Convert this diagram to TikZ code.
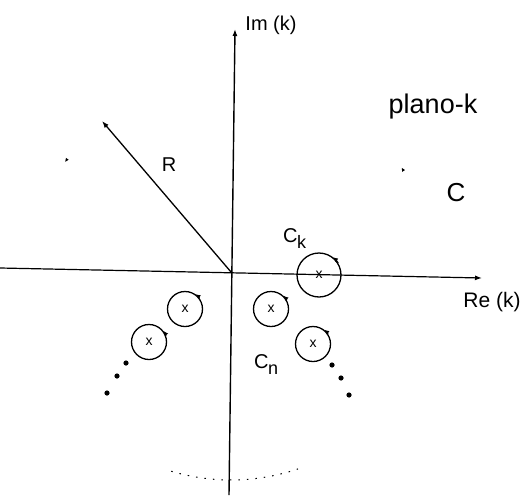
\documentclass[tikz,border=0pt]{standalone}
\usepackage{fontspec}
\setmainfont{Liberation Sans}
\usetikzlibrary{arrows.meta}
\newcommand{\fsz}[1]{\fontsize{#1}{#1}\selectfont}
\newcommand{\lowsub}[1]{\kern-0.5pt\raisebox{-6pt}{\fsz{18}#1}}
\tikzset{
  >={Latex[length=7,width=5]},  % punte piccole e piene
  % assi e raggio
  axis/.style={->,line width=1.4},
  % poli con il piccolo contorno
  pole/.style={circle,draw,line width=1.3,minimum size=35,inner sep=0,font=\fsz{14}},
  pole big/.style={pole,minimum size=44},
  dirtip/.style={-{Latex[length=5,width=4.5]},line width=1.1},
  lbl/.style={inner sep=0,font=\fsz{20}}
}
\begin{document}
\begin{tikzpicture}[x=1pt,y=1pt]
        \useasboundingbox (0,0) rectangle (524,-495);
        \coordinate (O) at (231,-272);
        \coordinate (xl) at (0,-268);
        \coordinate (xr) at (482,-278);
        \coordinate (yb) at (229,-495);
        \coordinate (yt) at (235,-29);
        \coordinate (Rtip) at (102,-121);
        \draw[axis,line width=1.2] (xl) -- (xr);
        \draw[axis] (yb) -- (yt);
        \draw[->,line width=1.3] (O) -- (Rtip);
        \node[lbl] (im) at (271,-25) {Im (k)};
        \node[lbl,font=\fsz{21}] (re) at (492,-302) {Re (k)};
        \node[lbl,font=\fsz{27}] (plano) at (433,-107) {plano-k};
        \node[lbl,font=\fsz{26}] (cbig) at (456,-193) {C};
        \node[lbl] (rlab) at (169,-165) {R};
        \node[lbl,anchor=base west] (ck) at (283,-242) {C\lowsub{k}};
        \node[lbl,anchor=base west] (cn) at (254,-368) {C\lowsub{n}};
        % poli
        \node[pole big] (pk) at (319,-275) {x};
        \foreach \nm/\px/\py in {p1/185/309, p2/149/342, p3/271/309, p4/313/344}{
          \node[pole] (\nm) at (\px,-\py) {x};
        }
        \foreach \nm/\a in {p1/55, p2/38, p3/47, p4/52}{
          \draw[dirtip] (\nm.\a-18) arc[start angle=\a-18,end angle=\a,radius=18];
        }
        \draw[dirtip] (pk.32) arc[start angle=32,end angle=52,radius=22.5];
        % contorno grande
        \draw[dirtip,-{Latex[length=4,width=3.5]}] (O) ++(145.5:199) arc[start angle=145.5,end angle=146.5,radius=199];
        \draw[dirtip,-{Latex[length=4,width=3.5]}] (O) ++(30.5:200) arc[start angle=30.5,end angle=31.5,radius=200];
        \draw[line width=1,dash pattern=on 1.5pt off 7pt] (O) ++(-106.7:208)
          arc[start angle=-106.7,end angle=-71.2,radius=208];
        \foreach \px/\py in {126/363, 117/376, 107/393, 332/365, 341/378, 349/395}{
          \fill (\px,-\py) circle (2.6);
        }
      \end{tikzpicture}
\end{document}
